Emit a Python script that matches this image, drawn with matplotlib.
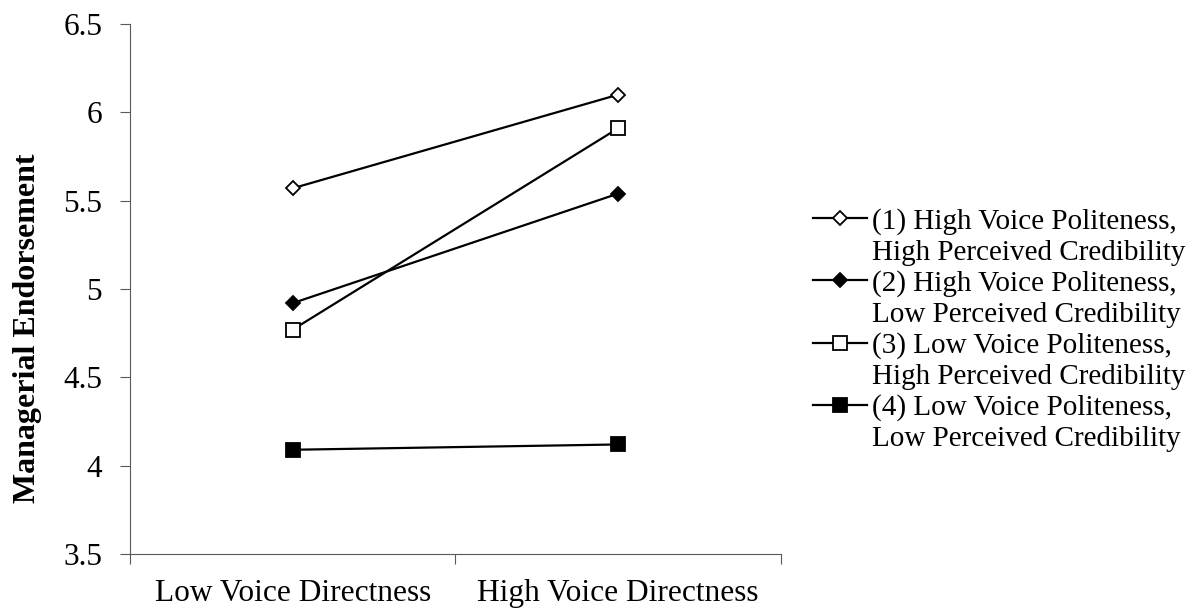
import matplotlib
matplotlib.use("Agg")
import matplotlib.pyplot as plt
from matplotlib.lines import Line2D

plt.rcParams["font.family"] = ["Liberation Serif", "DejaVu Serif"]

# data
conditions = ["Low Voice Directness", "High Voice Directness"]
series_labels = [
    ("(1) High Voice Politeness,", "High Perceived Credibility"),
    ("(2) High Voice Politeness,", "Low Perceived Credibility"),
    ("(3) Low Voice Politeness,", "High Perceived Credibility"),
    ("(4) Low Voice Politeness,", "Low Perceived Credibility"),
]
hp_hc = [5.57, 6.10]
hp_lc = [4.92, 5.54]
lp_hc = [4.77, 5.91]
lp_lc = [4.09, 4.12]
y_ticks = [3.5, 4, 4.5, 5, 5.5, 6, 6.5]
y_ticklabels = ["3.5", "4", "4.5", "5", "5.5", "6", "6.5"]

styles = [
    dict(marker="D", ms=7.0, mfc="white"),
    dict(marker="D", ms=7.5, mfc="black"),
    dict(marker="s", ms=9.5, mfc="white"),
    dict(marker="s", ms=9.5, mfc="black"),
]

fig = plt.figure(figsize=(11.96, 6.10), dpi=100)
ax = fig.add_axes([0.1087, 0.0918, 0.5443, 0.8689])

xs = list(range(1, len(conditions) + 1))
handles = []
labels = []
blank = Line2D([], [], linestyle="none", marker=None)
for vals, st, lab in zip([hp_hc, hp_lc, lp_hc, lp_lc], styles, series_labels):
    (ln,) = ax.plot(xs, vals, color="black", linewidth=1.6, marker=st["marker"],
                    markersize=st["ms"], markerfacecolor=st["mfc"],
                    markeredgecolor="black", markeredgewidth=1.3)
    handles += [ln, blank]
    labels += [lab[0], lab[1]]

ax.set_xlim(0.5, len(conditions) + 0.5)
ax.set_ylim(3.5, 6.5)
ax.set_yticks(y_ticks)
ax.set_yticklabels(y_ticklabels, fontsize=22.5)
ax.set_xticks(xs)
ax.set_xticklabels(conditions, fontsize=22.6)
ax.set_xticks([0.5, 1.5, 2.5], minor=True)
ax.tick_params(axis="x", which="major", length=0, pad=18)
ax.tick_params(axis="x", which="minor", length=7, width=0.8, color="#595959", direction="out")
ax.tick_params(axis="y", length=7, width=0.8, color="#595959", direction="out", pad=13)

for s in ["top", "right"]:
    ax.spines[s].set_visible(False)
for s in ["left", "bottom"]:
    ax.spines[s].set_color("#595959")
    ax.spines[s].set_linewidth(0.8)

ax.set_ylabel("Managerial Endorsement", fontsize=23, fontweight="bold")
ax.yaxis.set_label_coords(-0.135, 0.425)

fig.legend(handles, labels, loc="center left", bbox_to_anchor=(0.680, 0.459),
           frameon=False, fontsize=21, handlelength=1.85, handletextpad=0.17,
           labelspacing=0.15, borderpad=0, borderaxespad=0)

fig.savefig("out.png", dpi=100)
